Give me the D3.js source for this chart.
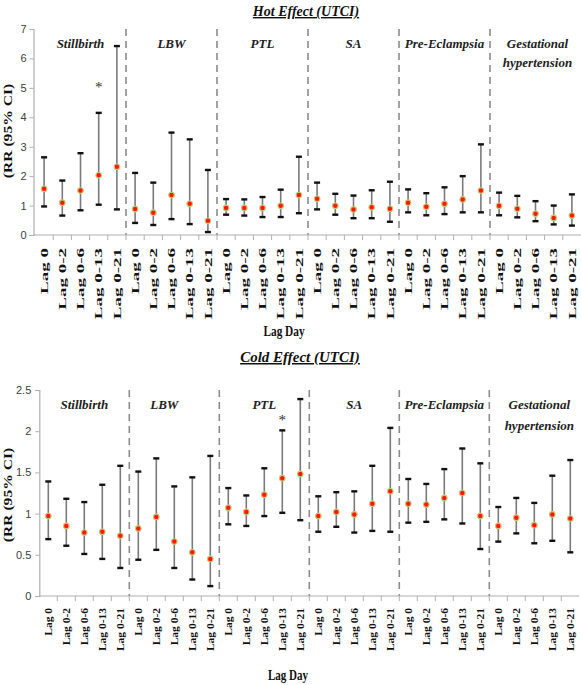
<!DOCTYPE html>
<html><head><meta charset="utf-8">
<script src="https://cdn.jsdelivr.net/npm/d3@7"></script>
<style>
html,body{margin:0;padding:0;background:#fff;}
svg{display:block;}
</style></head>
<body>
<svg id="chart" width="581" height="685"></svg>
<script>
// ---------- DATA ----------
const groups = ["Stillbirth","LBW","PTL","SA","Pre-Eclampsia","Gestational hypertension"];
const lags = ["Lag 0","Lag 0-2","Lag 0-6","Lag 0-13","Lag 0-21"];

// Hot effect (UTCI)
const hotRR = [[1.57,1.10,1.51,2.03,2.32],[0.88,0.76,1.36,1.06,0.48],[0.92,0.92,0.92,0.99,1.36],[1.23,0.99,0.87,0.94,0.89],[1.10,0.96,1.06,1.21,1.51],[0.99,0.89,0.72,0.58,0.66]];
const hotLo = [[0.97,0.66,0.84,1.03,0.87],[0.41,0.34,0.54,0.37,0.10],[0.69,0.66,0.61,0.61,0.74],[0.87,0.69,0.57,0.57,0.45],[0.77,0.67,0.71,0.77,0.77],[0.67,0.60,0.47,0.36,0.32]];
const hotHi = [[2.64,1.85,2.78,4.15,6.42],[2.11,1.78,3.48,3.25,2.21],[1.22,1.21,1.29,1.54,2.66],[1.78,1.40,1.34,1.52,1.81],[1.55,1.42,1.62,2.00,3.08],[1.44,1.33,1.15,1.00,1.38]];
const hotTicks = [0,1,2,3,4,5,6,7];
const hotStars = [{group:"Stillbirth", lag:"Lag 0-13", value:5.09}];

// Cold effect (UTCI)
const coldRR = [[0.97,0.85,0.77,0.78,0.73],[0.82,0.96,0.66,0.53,0.45],[1.07,1.02,1.23,1.43,1.48],[0.97,1.02,0.99,1.12,1.27],[1.12,1.11,1.19,1.25,0.97],[0.85,0.95,0.86,0.99,0.94]];
const coldLo = [[0.69,0.61,0.51,0.45,0.34],[0.44,0.56,0.34,0.20,0.12],[0.87,0.85,0.97,1.01,0.92],[0.78,0.84,0.77,0.79,0.78],[0.89,0.90,0.93,0.88,0.57],[0.66,0.76,0.64,0.67,0.53]];
const coldHi = [[1.39,1.18,1.14,1.35,1.58],[1.51,1.67,1.33,1.44,1.70],[1.31,1.22,1.55,2.01,2.39],[1.21,1.26,1.27,1.58,2.04],[1.42,1.36,1.54,1.79,1.61],[1.08,1.19,1.13,1.46,1.65]];
const coldTicks = [0,0.5,1,1.5,2,2.5];
const coldStars = [{group:"PTL", lag:"Lag 0-13", value:2.16}];

// ---------- DRAW ----------
const svg = d3.select("#chart");
const serif = "'Liberation Serif','Times New Roman',serif";
const sans = "'Liberation Sans',Arial,sans-serif";

function panel(cfg){
  const g = svg.append("g");
  const cats = [];
  groups.forEach(gr => lags.forEach(l => cats.push(gr + "|" + l)));
  const x = d3.scaleBand().domain(cats).range([cfg.x0, cfg.x1]).padding(0);
  const y = d3.scaleLinear().domain(cfg.domain).range([cfg.yBottom, cfg.yTop]);

  // title
  g.append("text").attr("x", cfg.titleX).attr("y", cfg.titleY)
    .attr("text-anchor","middle").attr("font-family", serif)
    .attr("font-weight","bold").attr("font-style","italic").attr("font-size", cfg.titleSize)
    .style("text-decoration","underline").attr("fill","#111").text(cfg.title);

  // dashed group separators
  for (let i = 1; i < groups.length; i++) {
    const xv = x(groups[i] + "|" + lags[0]);
    g.append("line").attr("x1", xv).attr("x2", xv)
      .attr("y1", y(cfg.domain[1])).attr("y2", y(0))
      .attr("stroke","#8c8c8c").attr("stroke-width",1.6).attr("stroke-dasharray","7,5");
  }

  // y axis
  const ya = d3.axisLeft(y).tickValues(cfg.ticks).tickSize(4).tickPadding(cfg.tickPad).tickFormat(d3.format("~g"));
  const yg = g.append("g").attr("transform", `translate(${cfg.yAxisX},0)`).call(ya);
  yg.select(".domain").attr("stroke","#b0b0b0").attr("stroke-width",1.2);
  yg.selectAll(".tick line").attr("stroke","#b0b0b0");
  yg.selectAll(".tick text").attr("font-family", sans).attr("font-size", 11).attr("fill","#404040");

  // x axis line + ticks at category boundaries
  g.append("line").attr("x1", cfg.yAxisX).attr("x2", cfg.x1).attr("y1", y(0)).attr("y2", y(0))
    .attr("stroke","#b0b0b0").attr("stroke-width",1.2);
  cats.forEach((c,i) => {
    const xv = x(c);
    if (i === 0) return;
    g.append("line").attr("x1", xv).attr("x2", xv).attr("y1", y(0)).attr("y2", y(0) + 5)
      .attr("stroke","#b0b0b0").attr("stroke-width",1);
  });

  // x tick labels
  cats.forEach(c => {
    const cx = x(c) + x.bandwidth()/2;
    const lab = c.split("|")[1];
    g.append("text")
      .attr("transform", `translate(${cx + 3.6},${cfg.labTop}) rotate(-90) scale(${cfg.labScale},1)`)
      .attr("text-anchor","end").attr("font-family", serif).attr("font-weight","bold")
      .attr("font-size",10).attr("fill","#111").text(lab);
  });

  // group labels
  groups.forEach((gr,i) => {
    const x0 = x(gr + "|" + lags[0]);
    const cx = x0 + x.bandwidth()*2.5 + (cfg.groupDx[i] || 0);
    const parts = gr === "Gestational hypertension" ? ["Gestational","hypertension"] : [gr];
    parts.forEach((p,k) => {
      g.append("text").attr("x", cx).attr("y", (k === 0 ? cfg.groupY : cfg.groupY2))
        .attr("text-anchor","middle").attr("font-family", serif).attr("font-style","italic")
        .attr("font-weight","bold").attr("font-size",13).attr("fill","#222").text(p);
    });
  });

  // error bars
  groups.forEach((gr,gi) => lags.forEach((l,li) => {
    const cx = x(gr + "|" + l) + x.bandwidth()/2;
    const lo = cfg.lo[gi][li], hi = cfg.hi[gi][li], rr = cfg.rr[gi][li];
    g.append("line").attr("x1", cx).attr("x2", cx).attr("y1", y(lo)).attr("y2", y(hi))
      .attr("stroke","#7a7a7a").attr("stroke-width",1.6);
    [lo,hi].forEach(v => g.append("line").attr("x1", cx-3).attr("x2", cx+3)
      .attr("y1", y(v)).attr("y2", y(v)).attr("stroke","#111").attr("stroke-width",2.4));
    g.append("circle").attr("cx", cx).attr("cy", y(rr)).attr("r", 2.8)
      .attr("fill","#ff1a00").attr("stroke","#c9c97a").attr("stroke-width",1.1);
  }));

  // significance stars
  cfg.stars.forEach(s => {
    const cx = x(s.group + "|" + s.lag) + x.bandwidth()/2;
    g.append("text").attr("x", cx).attr("y", y(s.value) + 6.5)
      .attr("text-anchor","middle").attr("font-family", serif).attr("font-size",15)
      .attr("fill","#333").text("*");
  });

  // y axis title
  g.append("text")
    .attr("transform", `translate(12,${cfg.yTitleY}) rotate(-90) scale(1.2,1)`)
    .attr("text-anchor","middle").attr("font-family", serif).attr("font-weight","bold")
    .attr("font-size",13).attr("fill","#111").text("(RR (95% CI)");

  // x axis title
  g.append("text")
    .attr("transform", `translate(${cfg.xTitleX},${cfg.xTitleY}) scale(${cfg.xTitleSx},${cfg.xTitleSy})`)
    .attr("text-anchor","middle").attr("font-family", serif).attr("font-weight","bold")
    .attr("font-size",13).attr("fill","#111").text("Lag Day");
}

panel({
  title:"Hot Effect (UTCI)", titleX:306, titleY:16, titleSize:14,
  x0:35, x1:581, yAxisX:33.5, yTop:29, yBottom:235, domain:[0,7], ticks:hotTicks, tickPad:3,
  rr:hotRR, lo:hotLo, hi:hotHi, stars:hotStars,
  labTop:248, labScale:1.9, groupY:48, groupY2:67, groupDx:[0,0,0,0,0,2],
  yTitleY:131, xTitleX:284, xTitleY:336, xTitleSx:0.87, xTitleSy:1.2
});

panel({
  title:"Cold Effect (UTCI)", titleX:300, titleY:362, titleSize:15,
  x0:39.3, x1:579.3, yAxisX:39.3, yTop:390, yBottom:596, domain:[0,2.5], ticks:coldTicks, tickPad:4,
  rr:coldRR, lo:coldLo, hi:coldHi, stars:coldStars,
  labTop:608, labScale:1.15, groupY:409, groupY2:430, groupDx:[0,-10,0,0,0,5],
  yTitleY:495, xTitleX:288, xTitleY:680, xTitleSx:0.85, xTitleSy:1.1
});
</script>
</body></html>
